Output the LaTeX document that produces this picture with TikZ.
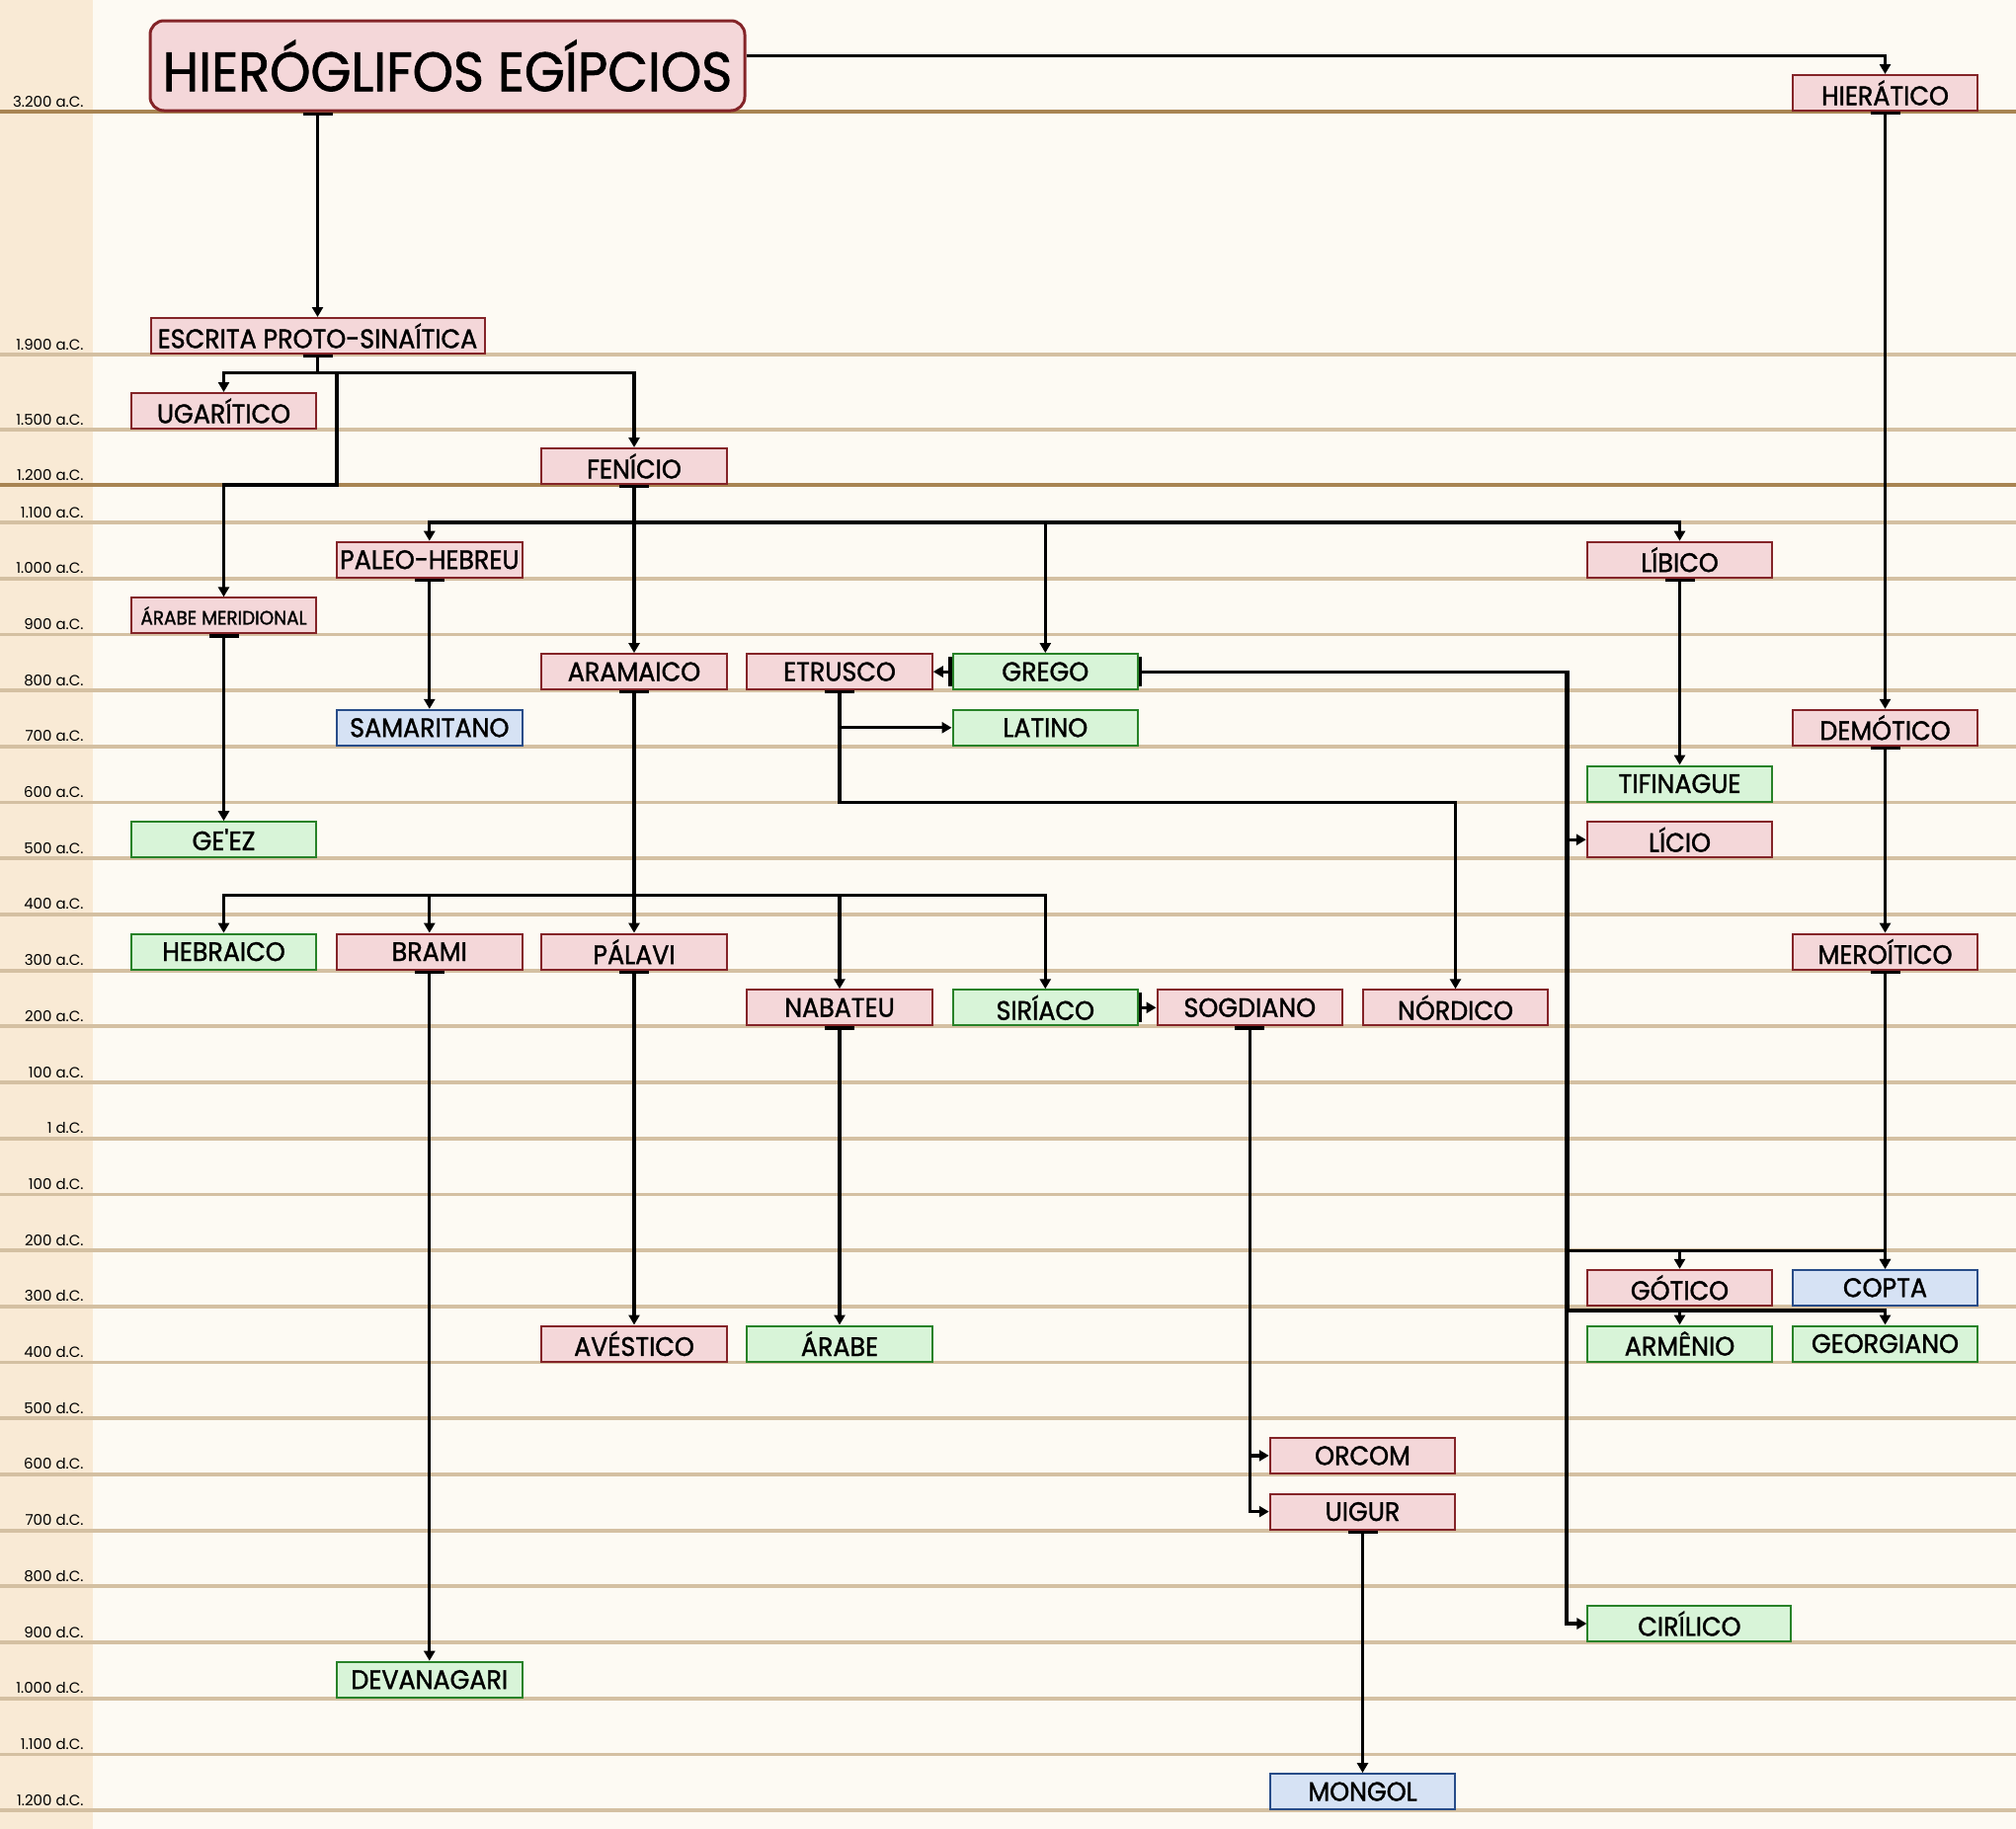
\documentclass[tikz,border=0pt]{standalone}
\usepackage{fontspec}
\setmainfont{Poppins}
\newfontfamily\caixafont[FakeBold=1.3,FakeStretch=0.94]{Poppins}
\usetikzlibrary{arrows.meta}
\definecolor{fundo}{RGB}{253,250,243}
\definecolor{faixa}{RGB}{249,234,213}
\definecolor{grade}{RGB}{212,192,162}
\definecolor{gradeforte}{RGB}{168,132,82}
\definecolor{rosa}{RGB}{244,215,217}
\definecolor{rosaborda}{RGB}{132,36,40}
\definecolor{verde}{RGB}{216,244,216}
\definecolor{verdeborda}{RGB}{40,130,40}
\definecolor{azul}{RGB}{214,226,244}
\definecolor{azulborda}{RGB}{40,76,136}

\begin{document}
\begin{tikzpicture}[x=0.5pt,y=-0.5pt,
      box/.style={draw,line width=1pt,anchor=south,minimum width=93.75pt,minimum height=18pt,inner sep=0pt,font=\caixafont\fontsize{13.5}{15}\selectfont},
      rosabox/.style={box,fill=rosa,draw=rosaborda},
      verdebox/.style={box,fill=verde,draw=verdeborda},
      azulbox/.style={box,fill=azul,draw=azulborda},
      titulo/.style={draw=rosaborda,fill=rosa,line width=1.5pt,rounded corners=7pt,minimum width=301pt,minimum height=45.5pt,inner sep=0pt,font=\caixafont\fontsize{28}{32}\selectfont},
      link/.style={line width=1.6pt,{Bar[width=15pt]}-{Triangle[width=5.5pt,length=5pt]}},
      ano/.style={anchor=base east,inner sep=0pt,font=\fontsize{7.5}{9}\selectfont}]
    \useasboundingbox (0,0) rectangle (2041,1852);
    \fill[fundo] (0,0) rectangle (2041,1852);
    \fill[faixa] (0,0) rectangle (94,1852);
    \foreach \y/\lab in {359/1.900 a.C.,435/1.500 a.C.} {
      \draw[grade,line width=1.9pt] (0,\y) -- (2041,\y);
      \node[ano] at (85,\y-5) {\lab};
    }
    \foreach \y/\lab in {113/3.200 a.C.,491/1.200 a.C.} {
      \draw[gradeforte,line width=1.9pt] (0,\y) -- (2041,\y);
      \node[ano] at (85,\y-5) {\lab};
    }
    \foreach \lab [count=\i from 0] in {1.100 a.C.,1.000 a.C.,900 a.C.,800 a.C.,700 a.C.,600 a.C.,500 a.C.,400 a.C.,300 a.C.,200 a.C.,100 a.C.,1 d.C.,100 d.C.,200 d.C.,300 d.C.,400 d.C.,500 d.C.,600 d.C.,700 d.C.,800 d.C.,900 d.C.,1.000 d.C.,1.100 d.C.,1.200 d.C.} {
      \draw[grade,line width=1.9pt] (0,{529+56.7*\i}) -- (2041,{529+56.7*\i});
      \node[ano] at (85,{524+56.7*\i}) {\lab};
    }

    \node[titulo] (hierog) at (453,66.5) {HIERÓGLIFOS EGÍPCIOS};
    \node[rosabox] (hieratico) at (1908.5,113) {HIERÁTICO};
    \node[rosabox,minimum width=169pt] (protosin) at (321.5,359) {ESCRITA PROTO-SINAÍTICA};
    \node[rosabox] (ugaritico) at (226.5,435) {UGARÍTICO};
    \node[rosabox] (fenicio) at (642,491) {FENÍCIO};
    \node[rosabox] (paleoheb) at (434.8,585.7) {PALEO-HEBREU};
    \node[rosabox] (libico) at (1700.5,585.7) {LÍBICO};
    \node[rosabox,font=\caixafont\fontsize{9.8}{11}\selectfont] (arabemer) at (226.5,642.4) {ÁRABE MERIDIONAL};
    \node[rosabox] (aramaico) at (642,699.1) {ARAMAICO};
    \node[rosabox] (etrusco) at (850,699.1) {ETRUSCO};
    \node[verdebox] (grego) at (1058.3,699.1) {GREGO};
    \node[azulbox] (samaritano) at (434.8,755.8) {SAMARITANO};
    \node[verdebox] (latino) at (1058.3,755.8) {LATINO};
    \node[rosabox] (demotico) at (1908.5,755.8) {DEMÓTICO};
    \node[verdebox] (tifinague) at (1700.5,812.5) {TIFINAGUE};
    \node[verdebox] (geez) at (226.5,869.2) {GE\textquotesingle EZ};
    \node[rosabox] (licio) at (1700.5,869.2) {LÍCIO};
    \node[verdebox] (hebraico) at (226.5,982.6) {HEBRAICO};
    \node[rosabox] (brami) at (434.8,982.6) {BRAMI};
    \node[rosabox] (palavi) at (642,982.6) {PÁLAVI};
    \node[rosabox] (meroitico) at (1908.5,982.6) {MEROÍTICO};
    \node[rosabox] (nabateu) at (850,1039.3) {NABATEU};
    \node[verdebox] (siriaco) at (1058.3,1039.3) {SIRÍACO};
    \node[rosabox] (sogdiano) at (1265.3,1039.3) {SOGDIANO};
    \node[rosabox] (nordico) at (1473.5,1039.3) {NÓRDICO};
    \node[rosabox] (gotico) at (1700.5,1322.8) {GÓTICO};
    \node[azulbox] (copta) at (1908.5,1322.8) {COPTA};
    \node[verdebox] (armenio) at (1700.5,1379.5) {ARMÊNIO};
    \node[verdebox] (georgiano) at (1908.5,1379.5) {GEORGIANO};
    \node[rosabox] (avestico) at (642,1379.5) {AVÉSTICO};
    \node[verdebox] (arabe) at (850,1379.5) {ÁRABE};
    \node[rosabox] (orcom) at (1379.5,1492.9) {ORCOM};
    \node[rosabox] (uigur) at (1379.5,1549.6) {UIGUR};
    \node[verdebox,minimum width=103pt] (cirilico) at (1710.4,1663) {CIRÍLICO};
    \node[verdebox] (devanagari) at (434.8,1719.7) {DEVANAGARI};
    \node[azulbox] (mongol) at (1379.5,1833.1) {MONGOL};

    \draw[link] (protosin.north |- hierog.south) -- (protosin.north);
    \draw[line width=1.6pt,-{Triangle[width=5.5pt,length=5pt]}] ([yshift=5pt]hierog.east) -| (hieratico.north);
    \foreach \de/\para in {hieratico/demotico,demotico/meroitico,meroitico/copta,fenicio/aramaico,paleoheb/samaritano,arabemer/geez,libico/tifinague,aramaico/palavi,brami/devanagari,palavi/avestico,nabateu/arabe,uigur/mongol}
      \draw[link] (\de.south) -- (\para.north);
    \draw[link] (protosin.south) -- ++(0,18.5) -| (ugaritico.north);
    \draw[link] (protosin.south) -- ++(0,18.5) -| (fenicio.north);
    \draw[link] (protosin.south) -- ++(0,18.5) -| (341,491) -| (arabemer.north);
    \foreach \para in {paleoheb,grego,libico}
      \draw[link] (fenicio.south) -- ++(0,38) -| (\para.north);
    \foreach \para in {hebraico,brami,nabateu,siriaco}
      \draw[link] (aramaico.south) -- ++(0,207.6) -| (\para.north);
    \draw[link] (grego.west) -- (etrusco.east);
    \draw[link] (etrusco.south) |- (latino.west);
    \draw[link] (etrusco.south) -- ++(0,113.4) -| (nordico.north);
    \draw[link] (siriaco.east) -- (sogdiano.west);
    \draw[link] (sogdiano.south) |- (orcom.west);
    \draw[link] (sogdiano.south) |- (uigur.west);
    \coordinate (trA) at (1587,1266.1);
    \coordinate (trB) at (1587,1327);
    \draw[link] (grego.east) -| ([xshift=-9.5pt]licio.west) -- (licio.west);
    \draw[link] (grego.east) -| (trA) -| (gotico.north);
    \draw[link] (grego.east) -| (trA) -| (copta.north);
    \draw[link] (grego.east) -| (trB) -| (armenio.north);
    \draw[link] (grego.east) -| (trB) -| (georgiano.north);
    \draw[link] (grego.east) -| ([xshift=-10.2pt]cirilico.west) -- (cirilico.west);
  \end{tikzpicture}
\end{document}
